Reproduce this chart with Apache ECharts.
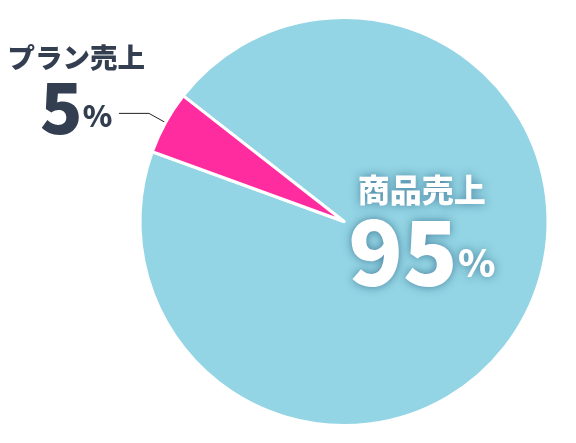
<!DOCTYPE html>
<html>
<head>
<meta charset="utf-8">
<script src="https://cdn.jsdelivr.net/npm/echarts@6/dist/echarts.min.js"></script>
<style>
  html, body { margin: 0; padding: 0; background: #fff; }
  #myChart { width: 576px; height: 443px; }
</style>
</head>
<body>
<div id="myChart"></div>
<script>
// 売上構成
var names = ['商品売上', 'プラン売上'];
var values = [95, 5];
var colors = ['#93d5e4', '#ff2ca0'];

var myChart = echarts.init(document.getElementById('myChart'));

var font = '"Noto Sans CJK JP", "Liberation Sans", sans-serif';
var shadow = 'rgba(20,70,110,0.6)';

var data = [];
for (var i = 0; i < names.length; i++) {
	data.push({
		name: names[i],
		value: values[i],
		itemStyle: { color: colors[i] }
	});
}

// 商品売上は内側に白文字
data[0].label = {
	position: 'inside',
	offset: [-14, -41],
	formatter: '{a|{b}}\n{n|{c}}{p|%}',
	rich: {
		a: { fontFamily: font, fontSize: 32, fontWeight: 900, color: '#fff', lineHeight: 40, align: 'center',
			textShadowColor: shadow, textShadowBlur: 10 },
		n: { fontFamily: font, fontSize: 90, fontWeight: 900, color: '#fff', lineHeight: 84, align: 'center',
			textShadowColor: shadow, textShadowBlur: 10 },
		p: { fontFamily: font, fontSize: 38, fontWeight: 900, color: '#fff', lineHeight: 84, align: 'center',
			padding: [22, 0, 0, 0],
			textShadowColor: shadow, textShadowBlur: 10 }
	}
};

// プラン売上は外側
data[1].label = {
	position: 'outside',
	overflow: 'none',
	bleedMargin: 0,
	distanceToLabelLine: 6,
	padding: [0, 0, 48, 0],
	formatter: '{a|{b}}\n{n|{c}}{p|%}',
	rich: {
		a: { fontFamily: font, fontSize: 27.5, fontWeight: 900, color: '#333f50', lineHeight: 36, align: 'center' },
		n: { fontFamily: font, fontSize: 70, fontWeight: 900, color: '#333f50', lineHeight: 64, align: 'center' },
		p: { fontFamily: font, fontSize: 30, fontWeight: 900, color: '#333f50', lineHeight: 64, align: 'center',
			padding: [16, 0, 0, 0] }
	}
};
data[1].labelLine = {
	show: true,
	length: 19,
	length2: 30,
	lineStyle: { color: '#222', width: 1 }
};

var option = {
	backgroundColor: '#fff',
	animation: false,
	series: [{
		type: 'pie',
		center: [344, 221.5],
		radius: 204,
		startAngle: 142,
		clockwise: true,
		avoidLabelOverlap: false,
		itemStyle: { borderColor: '#fff', borderWidth: 3 },
		labelLine: { show: false },
		// 外側ラベルを線の端から中央寄せに
		labelLayout: function(params) {
			if (params.dataIndex === 1) {
				return { dx: 32 };
			}
		},
		data: data
	}]
};
myChart.setOption(option);
</script>
</body>
</html>
